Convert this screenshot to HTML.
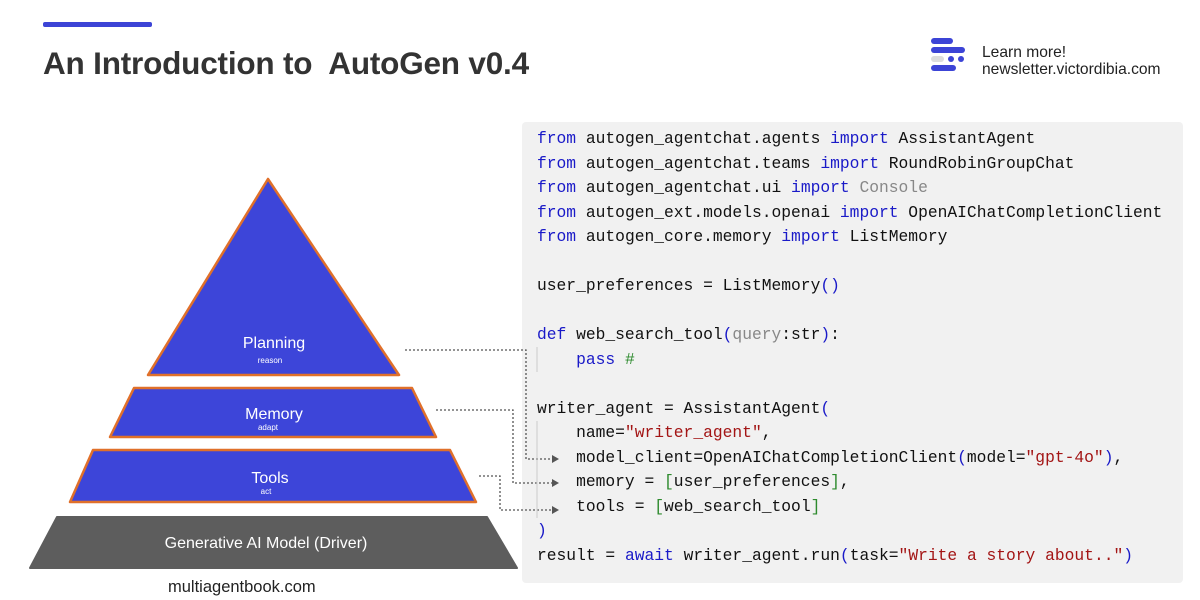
<!DOCTYPE html>
<html><head><meta charset="utf-8"><style>
body{margin:0;width:1200px;height:600px;background:#fff;position:relative;overflow:hidden;font-family:"Liberation Sans",sans-serif}
.bar{position:absolute;left:43px;top:22px;width:109px;height:5px;background:#3c44d6;border-radius:2px}
h1{position:absolute;left:43px;top:45px;margin:0;font-size:31.5px;font-weight:bold;color:#333;letter-spacing:-0.2px;white-space:pre}
.lm{position:absolute;left:982px;top:44px;font-size:15.6px;line-height:17px;color:#222}
.code{position:absolute;left:522px;top:122px;width:661px;height:461px;background:#f1f1f1;border-radius:4px}
pre{position:absolute;left:537px;top:127px;margin:0;font-family:"Liberation Mono",monospace;font-size:16.3px;line-height:24.5px;color:#111}
.k{color:#1a1ac8}.s{color:#a31515}.g{color:#888}.c{color:#2e8b2e}
.foot{position:absolute;left:168px;top:578px;font-size:16.5px;color:#222}
svg{position:absolute;left:0;top:0}
</style></head><body>
<div class="bar"></div>
<h1>An Introduction to  AutoGen v0.4</h1>
<div class="lm">Learn more!<br>newsletter.victordibia.com</div>
<div class="code"></div>
<svg width="1200" height="600">
<g fill="#3d45d9" stroke="#e0702a" stroke-width="2.5" stroke-linejoin="round">
<polygon points="268,179 399,375 148,375"/>
<polygon points="134,388 412,388 436,437 110,437"/>
<polygon points="93,450 450,450 476,502 70,502"/>
</g>
<polygon points="57,517 487,517 517,568 30,568" fill="#5d5d5d" stroke-linejoin="round" stroke="#5d5d5d" stroke-width="2"/>
<g font-family="Liberation Sans,sans-serif" fill="#fff" text-anchor="middle">
<text x="274" y="348" font-size="16">Planning</text>
<text x="270" y="363" font-size="8">reason</text>
<text x="274" y="419" font-size="16">Memory</text>
<text x="268" y="430" font-size="8">adapt</text>
<text x="270" y="483" font-size="16">Tools</text>
<text x="266" y="494" font-size="8">act</text>
<text x="266" y="548" font-size="16">Generative AI Model (Driver)</text>
</g>
<g fill="none" stroke="#555" stroke-width="1.3" stroke-dasharray="2,2">
<path d="M405,350 H526 V459 H552"/>
<path d="M436,410 H513 V483 H552"/>
<path d="M479,476 H500 V510 H552"/>
</g>
<g fill="#555"><polygon points="552,455 559,459 552,463"/><polygon points="552,479 559,483 552,487"/><polygon points="552,506 559,510 552,514"/></g>
<g stroke="#ccc" stroke-width="1"><line x1="537" y1="347" x2="537" y2="372"/><line x1="537" y1="421" x2="537" y2="518"/></g>
<g>
<rect x="931" y="38" width="22" height="6" rx="3" fill="#3c44d6"/>
<rect x="931" y="47" width="34" height="6" rx="3" fill="#3c44d6"/>
<rect x="931" y="56" width="13" height="6" rx="3" fill="#ddd"/>
<circle cx="951" cy="59" r="3" fill="#3c44d6"/><circle cx="961" cy="59" r="3" fill="#3c44d6"/>
<rect x="931" y="65" width="25" height="6" rx="3" fill="#3c44d6"/>
</g>
</svg>
<pre><span class="k">from</span> autogen_agentchat.agents <span class="k">import</span> AssistantAgent
<span class="k">from</span> autogen_agentchat.teams <span class="k">import</span> RoundRobinGroupChat
<span class="k">from</span> autogen_agentchat.ui <span class="k">import</span> <span class="g">Console</span>
<span class="k">from</span> autogen_ext.models.openai <span class="k">import</span> OpenAIChatCompletionClient
<span class="k">from</span> autogen_core.memory <span class="k">import</span> ListMemory

user_preferences = ListMemory<span class="k">()</span>

<span class="k">def</span> web_search_tool<span class="k">(</span><span class="g">query</span>:str<span class="k">)</span>:
    <span class="k">pass</span> <span class="c">#</span>

writer_agent = AssistantAgent<span class="k">(</span>
    name=<span class="s">"writer_agent"</span>,
    model_client=OpenAIChatCompletionClient<span class="k">(</span>model=<span class="s">"gpt-4o"</span><span class="k">)</span>,
    memory = <span class="c">[</span>user_preferences<span class="c">]</span>,
    tools = <span class="c">[</span>web_search_tool<span class="c">]</span>
<span class="k">)</span>
result = <span class="k">await</span> writer_agent.run<span class="k">(</span>task=<span class="s">"Write a story about.."</span><span class="k">)</span></pre>
<div class="foot">multiagentbook.com</div>
</body></html>
